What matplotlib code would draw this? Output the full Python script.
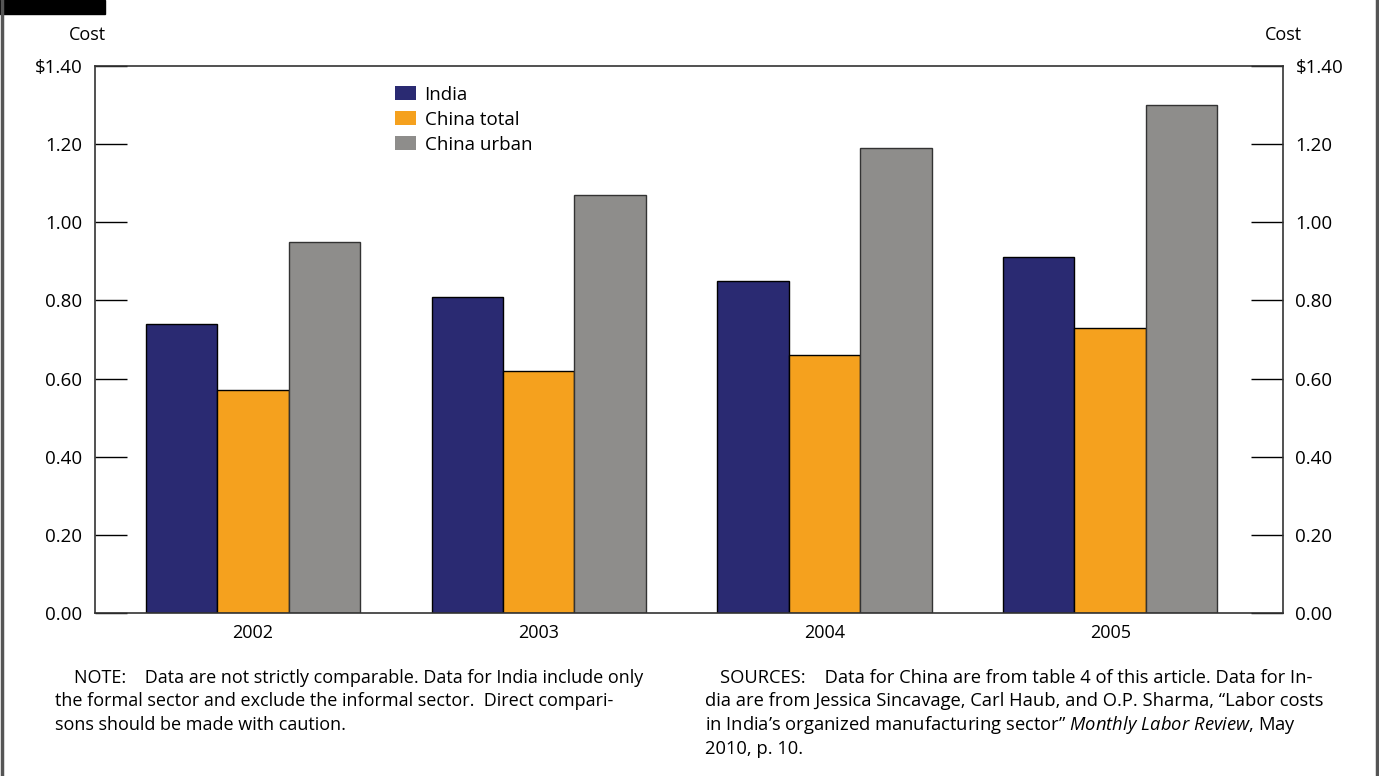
import numpy as np
import matplotlib
matplotlib.use('Agg')
from matplotlib import pyplot as plt
from matplotlib.patches import Rectangle

plt.rcParams['font.family'] = ['Open Sans', 'DejaVu Sans']
plt.rcParams['mathtext.fontset'] = 'custom'
plt.rcParams['mathtext.it'] = 'Open Sans:italic'
plt.rcParams['mathtext.rm'] = 'Open Sans'

years = ['2002', '2003', '2004', '2005']
india = [0.74, 0.81, 0.85, 0.91]
china_total = [0.57, 0.62, 0.66, 0.73]
china_urban = [0.95, 1.07, 1.19, 1.30]
yticks = [0.0, 0.2, 0.4, 0.6, 0.8, 1.0, 1.2, 1.4]
ytick_labels = ['0.00', '0.20', '0.40', '0.60', '0.80', '1.00', '1.20', '$1.40']

fig = plt.figure(figsize=(13.79, 7.76), dpi=100)
ax = fig.add_axes([95/1379, 1-613/776, 1188/1379, 547/776])

x = np.arange(len(years))
w = 0.25
ax.bar(x - w, india, w, color='#2a2a72', edgecolor='black', linewidth=1, label='India')
ax.bar(x, china_total, w, color='#f5a11e', edgecolor='black', linewidth=1, label='China total')
ax.bar(x + w, china_urban, w, color='#8e8d8b', edgecolor='#333333', linewidth=1, label='China urban')

ax.set_xlim(-0.553, 3.605)
ax.set_ylim(0, 1.4)
ax.set_xticks(x)
ax.set_xticklabels(years, fontsize=13)
ax.tick_params(axis='x', length=0, pad=8)
ax.set_yticks(yticks)
ax.set_yticklabels(ytick_labels, fontsize=13.5)
ax.tick_params(axis='y', direction='in', length=23, width=1, pad=9,
               right=True, labelright=True)
for s in ax.spines.values():
    s.set_linewidth(1.2)
    s.set_color('#333333')

leg = ax.legend(loc='upper left', bbox_to_anchor=(0.238, 0.995), frameon=False,
                fontsize=13.5, handlelength=1.15, handleheight=0.75,
                labelspacing=0.38, handletextpad=0.45)
for h in leg.legend_handles:
    h.set_edgecolor('none')

fig.text(87/1379, 1-35/776, 'Cost', fontsize=13, ha='center', va='center')
fig.text(1283/1379, 1-35/776, 'Cost', fontsize=13, ha='center', va='center')

note = ['NOTE:    Data are not strictly comparable. Data for India include only',
        'the formal sector and exclude the informal sector.  Direct compari-',
        'sons should be made with caution.']
sources = ['SOURCES:    Data for China are from table 4 of this article. Data for In-',
           'dia are from Jessica Sincavage, Carl Haub, and O.P. Sharma, \u201cLabor costs',
           'in India\u2019s organized manufacturing sector\u201d $\\it{Monthly\\ Labor\\ Review}$, May',
           '2010, p. 10.']
for i, line in enumerate(note):
    fig.text((74 if i == 0 else 55)/1379, 1-(678 + 23.5*i)/776, line,
             fontsize=13, ha='left', va='center')
for i, line in enumerate(sources):
    fig.text((720 if i == 0 else 705)/1379, 1-(678 + 23.5*i)/776, line,
             fontsize=13.2, ha='left', va='center')

# frame around the figure
fig.add_artist(plt.Line2D([2/1379, 2/1379], [0, 1], color='#555555', lw=2.5,
                          transform=fig.transFigure))
fig.add_artist(plt.Line2D([1377/1379, 1377/1379], [0, 1], color='#555555', lw=2.5,
                          transform=fig.transFigure))
fig.add_artist(Rectangle((0, 1-14/776), 105/1379, 14/776, color='black',
                         transform=fig.transFigure))

fig.savefig('out.png', dpi=100)
